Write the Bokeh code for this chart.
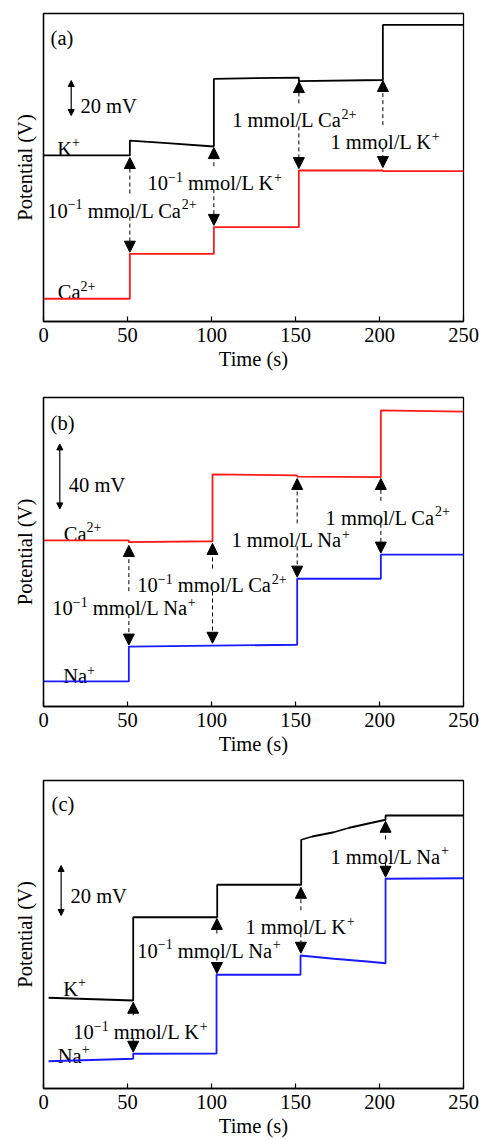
import re
from bokeh.plotting import figure
from bokeh.layouts import column
from bokeh.models import Range1d, FixedTicker, Arrow, NormalHead
from bokeh.core.properties import value
from bokeh.embed import file_html
from bokeh.resources import INLINE

# ---------------- data ----------------
x_ticks = [0, 50, 100, 150, 200, 250]

# Panel (a): K+ (black) and Ca2+ (red), potential in mV (arbitrary offset)
a_k_t = [0, 51.4, 51.4, 73.6, 101.4, 101.4, 152, 152, 202, 202, 250]
a_k_v = [94.9, 94.9, 103.4, 101.9, 100.0, 138.7, 139.4, 137.3, 138.0, 169.5, 169.5]
a_ca_t = [0, 51.4, 51.4, 101.4, 101.4, 152, 152, 202, 202, 250]
a_ca_v = [13.0, 13.0, 38.7, 38.7, 53.9, 53.9, 86.3, 86.3, 85.9, 85.9]
a_events = [51.4, 101.4, 152, 202]
a_up_tip = [93.7, 99.4, 137.1, 137.7]
a_down_tip = [39.6, 54.9, 87.4, 88.0]
a_label_x = [4.2, 22.0, 8.2, 112.3, 170.8, 61.9, 2.2, 8.5]
a_label_y = [162.0, 123.4, 98.7, 114.9, 102.5, 79.0, 63.4, 16.8]
a_label_text = ["(a)", "20 mV", "K^{+}", "1 mmol/L Ca^{2+}", "1 mmol/L K^{+}",
                "10^{−1} mmol/L K^{+}", "10^{−1} mmol/L Ca^{2+}", "Ca^{2+}"]
a_bar = [16.5, 117.7, 137.7]

# Panel (b): Ca2+ (red) and Na+ (blue)
b_ca_t = [0, 50.8, 50.8, 100.6, 100.6, 151, 151, 200.8, 200.8, 250]
b_ca_v = [102.2, 102.2, 101.1, 101.7, 142.8, 142.2, 141.5, 141.2, 182.2, 181.5]
b_na_t = [0, 50.8, 50.8, 100.6, 151, 151, 200.8, 200.8, 250]
b_na_v = [15.4, 15.4, 36.9, 37.4, 38.0, 78.6, 78.6, 93.5, 93.5]
b_events = [50.8, 100.6, 151, 200.8]
b_up_tip = [99.1, 100.3, 140.3, 140.3]
b_down_tip = [37.8, 38.9, 79.6, 94.4]
b_label_x = [4.2, 15.1, 12.1, 167.9, 111.9, 55.8, 5.2, 11.7]
b_label_y = [174.3, 136.6, 106.3, 116.1, 102.2, 74.5, 60.5, 18.5]
b_label_text = ["(b)", "40 mV", "Ca^{2+}", "1 mmol/L Ca^{2+}", "1 mmol/L Na^{+}",
                "10^{−1} mmol/L Ca^{2+}", "10^{−1} mmol/L Na^{+}", "Na^{+}"]
b_bar = [9.7, 121.6, 161.6]

# Panel (c): K+ (black) and Na+ (blue)
c_k_t = [3, 53.4, 53.4, 103.4, 103.4, 153.4, 153.4, 160, 172.8, 182, 192.7, 203.6, 203.6, 250]
c_k_v = [36.3, 35.2, 68.5, 68.5, 81.5, 81.5, 99.5, 100.8, 102.5, 104.3, 105.9, 107.5, 109.2, 109.2]
c_na_t = [3, 53.4, 53.4, 103, 103, 153, 153, 172.8, 192.7, 203.6, 203.6, 250]
c_na_v = [10.9, 11.9, 13.9, 14.0, 45.5, 45.5, 53.2, 51.9, 50.8, 50.1, 83.9, 84.1]
c_events = [53.4, 103.2, 153.2, 203.6]
c_up_tip = [34.5, 68.0, 80.5, 106.9]
c_down_tip = [14.5, 46.0, 54.1, 84.5]
c_label_x = [4.8, 16.1, 170.8, 120.2, 55.8, 11.7, 17.7, 8.5]
c_label_y = [113.9, 77.2, 92.8, 64.5, 55.2, 39.9, 22.5, 13.2]
c_label_text = ["(c)", "20 mV", "1 mmol/L Na^{+}", "1 mmol/L K^{+}",
                "10^{−1} mmol/L Na^{+}", "K^{+}", "10^{−1} mmol/L K^{+}", "Na^{+}"]
c_bar = [10.5, 69.2, 89.2]

# ---------------- styling ----------------
FONT = "Liberation Serif"
FS = 20.5
SFS = 14.0
RAISE = 6.5
BLACK = "#000000"
RED = "#ff1a1a"
BLUE = "#1a1aff"
FRAME_W = 420

# Times / Liberation Serif advance widths (per 1000 em)
ADV = {' ': 250, '/': 278, '+': 564, '−': 564, '(': 333, ')': 333,
       'm': 778, 'o': 500, 'l': 278, 'L': 611, 'C': 667, 'a': 444, 'K': 722,
       'N': 722, 'V': 722, 'b': 500, 'c': 444}


def em(s):
    return sum(ADV.get(ch, 500) for ch in s) / 1000.0


def parse(s):
    parts = re.split(r"\^\{(.*?)\}", s)
    return [(t, i % 2 == 1) for i, t in enumerate(parts) if t]


def draw_label(p, x, y, s):
    off = 0.0
    for txt, sup in parse(s):
        fs = SFS if sup else FS
        lead = len(txt) - len(txt.lstrip(" "))
        off += lead * 0.25 * fs
        core = txt.strip(" ")
        if core:
            p.text(x=[x], y=[y], text=[core], x_offset=off,
                   y_offset=(-RAISE if sup else 0),
                   text_font=value(FONT), text_font_size=f"{fs}px",
                   text_color="black", text_align="left", text_baseline="alphabetic")
        off += em(txt.lstrip(" ")) * fs
    return off


def panel(height, top, bottom, ymax, series, events, up_tip, down_tip,
          lx, ly, ltxt, bar):
    frame_h = height - top - bottom
    sx = FRAME_W / 250.0
    sy = frame_h / ymax
    p = figure(width=479, height=height, x_range=Range1d(0, 250), y_range=Range1d(0, ymax),
               min_border_left=43, min_border_right=16, min_border_top=top,
               min_border_bottom=bottom, toolbar_location=None, output_backend="svg")
    p.xgrid.visible = False
    p.ygrid.visible = False
    p.outline_line_color = "black"
    p.outline_line_width = 1.3
    p.background_fill_color = "white"
    p.border_fill_color = "white"

    xa = p.xaxis[0]
    xa.ticker = FixedTicker(ticks=x_ticks)
    xa.minor_tick_line_color = None
    xa.major_tick_in = 5
    xa.major_tick_out = 0
    xa.major_tick_line_width = 1.2
    xa.axis_line_width = 1.3
    xa.major_label_text_font = FONT
    xa.major_label_text_font_size = f"{FS}px"
    xa.major_label_text_color = "black"
    xa.major_label_standoff = 6
    xa.axis_label = "Time (s)"
    xa.axis_label_text_font = FONT
    xa.axis_label_text_font_size = f"{FS}px"
    xa.axis_label_text_font_style = "normal"
    xa.axis_label_text_color = "black"
    xa.axis_label_standoff = 3

    ya = p.yaxis[0]
    ya.ticker = FixedTicker(ticks=[])
    ya.major_label_text_font_size = "0px"
    ya.major_tick_line_color = None
    ya.minor_tick_line_color = None
    ya.axis_line_width = 1.3
    ya.axis_label = "Potential (V)"
    ya.axis_label_text_font = FONT
    ya.axis_label_text_font_size = f"{FS}px"
    ya.axis_label_text_font_style = "normal"
    ya.axis_label_text_color = "black"
    ya.axis_label_standoff = 8

    # labels
    boxes = []
    for x, y, s in zip(lx, ly, ltxt):
        w = draw_label(p, x, y, s)
        boxes.append((x * sx, x * sx + w, y))

    # event arrows (dashed, broken by text)
    for t, ut, dt in zip(events, up_tip, down_tip):
        ex = t * sx
        gaps = []
        for l0, l1, y in boxes:
            if l0 + 2 < ex < l1 - 2 and dt < y < ut:
                gaps.append((y + 17.0 / sy, y - 6.0 / sy))
        gaps.sort(key=lambda g: -g[0])
        if gaps:
            up_start = gaps[0][0]
            down_start = gaps[-1][1]
            for g0, g1 in zip(gaps[:-1], gaps[1:]):
                p.segment(x0=[t], y0=[g0[1]], x1=[t], y1=[g1[0]], line_color="black",
                          line_width=1, line_dash="4 3")
        else:
            up_start = down_start = (ut + dt) / 2.0
        p.add_layout(Arrow(start=None,
                           end=NormalHead(size=11, fill_color="black", line_color="black", line_width=1),
                           x_start=t, y_start=up_start, x_end=t, y_end=ut,
                           line_color="black", line_width=1, line_dash="4 3"))
        p.add_layout(Arrow(start=None,
                           end=NormalHead(size=11, fill_color="black", line_color="black", line_width=1),
                           x_start=t, y_start=down_start, x_end=t, y_end=dt,
                           line_color="black", line_width=1, line_dash="4 3"))

    # scale bar
    bx, b0, b1 = bar
    p.add_layout(Arrow(start=NormalHead(size=6, fill_color="black", line_color="black", line_width=1),
                       end=NormalHead(size=6, fill_color="black", line_color="black", line_width=1),
                       x_start=bx, y_start=b0, x_end=bx, y_end=b1,
                       line_color="black", line_width=1.2))

    # traces
    for t, v, col in series:
        p.line(t, v, line_color=col, line_width=1.8)
    return p


pa = panel(380, 13, 59, 176.0,
           [(a_k_t, a_k_v, BLACK), (a_ca_t, a_ca_v, RED)],
           a_events, a_up_tip, a_down_tip, a_label_x, a_label_y, a_label_text, a_bar)
pb = panel(383, 17, 57, 190.15,
           [(b_ca_t, b_ca_v, RED), (b_na_t, b_na_v, BLUE)],
           b_events, b_up_tip, b_down_tip, b_label_x, b_label_y, b_label_text, b_bar)
pc = panel(376, 17, 51, 123.2,
           [(c_k_t, c_k_v, BLACK), (c_na_t, c_na_v, BLUE)],
           c_events, c_up_tip, c_down_tip, c_label_x, c_label_y, c_label_text, c_bar)

layout = column(pa, pb, pc, spacing=0)
open("out.html", "w").write(file_html(layout, INLINE))
